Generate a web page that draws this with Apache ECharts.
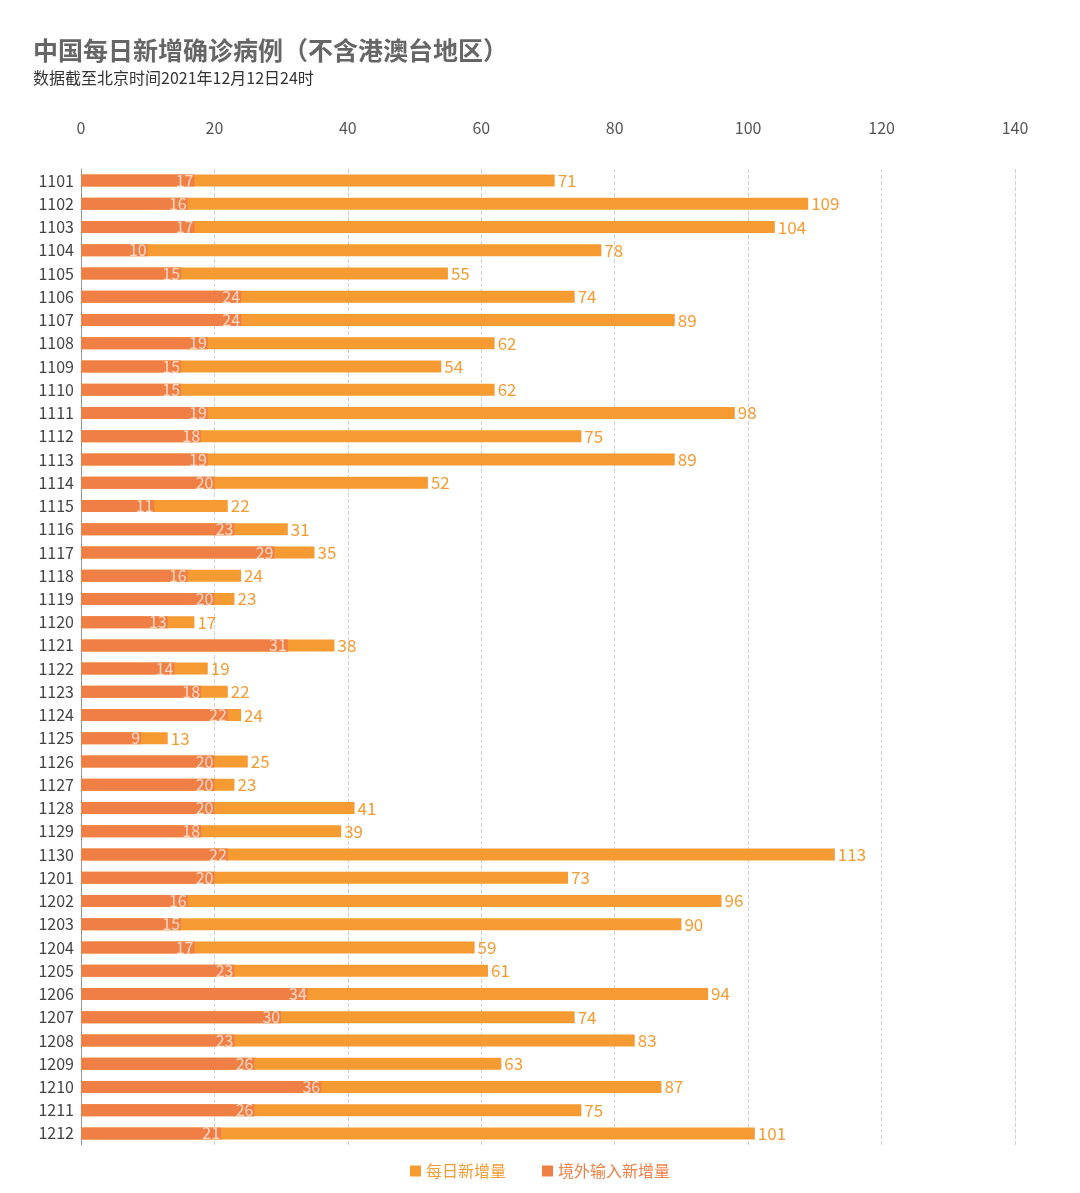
<!DOCTYPE html>
<html><head><meta charset="utf-8">
<script src="https://cdn.jsdelivr.net/npm/echarts@6/dist/echarts.min.js"></script>
<style>html,body{margin:0;padding:0;background:#fff}#c{width:1080px;height:1193px}</style>
</head><body><div id="c"></div>
<script>
const categories = ['1101','1102','1103','1104','1105','1106','1107','1108','1109','1110','1111','1112','1113','1114','1115','1116','1117','1118','1119','1120','1121','1122','1123','1124','1125','1126','1127','1128','1129','1130','1201','1202','1203','1204','1205','1206','1207','1208','1209','1210','1211','1212'];
const dailyTotal = [71,109,104,78,55,74,89,62,54,62,98,75,89,52,22,31,35,24,23,17,38,19,22,24,13,25,23,41,39,113,73,96,90,59,61,94,74,83,63,87,75,101];
const imported = [17,16,17,10,15,24,24,19,15,15,19,18,19,20,11,23,29,16,20,13,31,14,18,22,9,20,20,20,18,22,20,16,15,17,23,34,30,23,26,36,26,21];
const xTicks = [0,20,40,60,80,100,120,140];
const seriesNames = ['每日新增量','境外输入新增量'];
const cTotal = '#F59B32', cImp = '#F07F45';
const font = '"Noto Sans CJK SC", "Noto Sans", sans-serif';
const chart = echarts.init(document.getElementById('c'));
chart.setOption({
  backgroundColor:'#fff',
  textStyle:{fontFamily:font},
  title:{text:'中国每日新增确诊病例（不含港澳台地区）', subtext:'数据截至北京时间2021年12月12日24时',
    left:28, top:33, itemGap:7,
    textStyle:{fontSize:25,fontWeight:'bold',color:'#666',fontFamily:font},
    subtextStyle:{fontSize:16,color:'#333',fontFamily:font}},
  legend:{bottom:9, left:'center', itemWidth:11, itemHeight:11, itemGap:36, icon:'rect',
    data:[{name:seriesNames[0],textStyle:{color:cTotal}},{name:seriesNames[1],textStyle:{color:cImp}}],
    textStyle:{fontSize:16,fontFamily:font}},
  grid:{left:81,right:65,top:169,bottom:48},
  xAxis:{type:'value',position:'top',min:xTicks[0],max:xTicks[xTicks.length-1],interval:20,
    axisLine:{show:false},axisTick:{show:false},
    axisLabel:{color:'#555',fontSize:16,margin:33},
    splitLine:{lineStyle:{type:'dashed',color:'#d0d0d0'}}},
  yAxis:{type:'category',data:categories,inverse:true,
    axisLine:{lineStyle:{color:'#999'}},axisTick:{show:false},
    axisLabel:{color:'#444',fontSize:16,margin:7}},
  series:[
    {name:seriesNames[0],type:'bar',data:dailyTotal,barWidth:12,barGap:'-100%',itemStyle:{color:cTotal,borderRadius:0},
      label:{show:true,position:'right',distance:3,color:cTotal,fontSize:17}},
    {name:seriesNames[1],type:'bar',data:imported,barWidth:12,itemStyle:{color:cImp,borderRadius:0},
      label:{show:true,position:'insideRight',distance:1,color:'rgba(255,255,255,0.7)',fontSize:16}}
  ]
});
</script></body></html>
